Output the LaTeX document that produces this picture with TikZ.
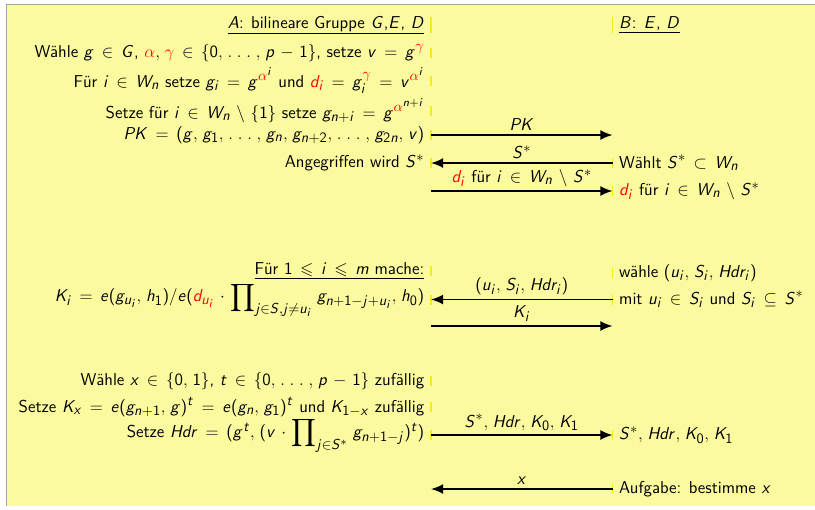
\documentclass[tikz,border=0pt]{standalone}
\usepackage{amssymb}
\usetikzlibrary{positioning, arrows.meta}
\definecolor{slideYellow}{HTML}{FCFA9E}
\definecolor{tickYellow}{HTML}{F2EC1A}
\definecolor{frameGray}{HTML}{A3A3A3}
% Mathe in serifenloser Schrift (wie bei beamer)
\SetSymbolFont{operators}{normal}{OT1}{cmss}{m}{n}
\DeclareSymbolFont{sfletters}{OT1}{cmss}{m}{sl}
\makeatletter
\count@=`A
\loop\mathcode\count@=\numexpr"7000+"100*\symsfletters+\count@\relax
  \ifnum\count@<`Z\advance\count@ 1 \repeat
\count@=`a
\loop\mathcode\count@=\numexpr"7000+"100*\symsfletters+\count@\relax
  \ifnum\count@<`z\advance\count@ 1 \repeat
\makeatother
\DeclareMathSizes{12}{12}{10}{8}
\thinmuskip=5mu\relax
\medmuskip=6mu plus 2mu minus 4mu\relax
\thickmuskip=8mu plus 5mu\relax
\newcommand\grossprod{\mathop{\vcenter{\hbox{\fontsize{13.5}{16}\selectfont$\displaystyle\prod$}}}\nolimits}

\begin{document}
\begin{tikzpicture}[
    x=0.2454mm, y=-0.2454mm,
    font=\fontsize{12}{14.4}\selectfont\sffamily,
    lrow/.style={anchor=east, inner xsep=4.5pt, inner ysep=2pt},
    lbase/.style={anchor=base east, inner xsep=4.5pt, inner ysep=2pt},
    rrow/.style={anchor=west, inner xsep=4.5pt, inner ysep=2pt},
    rbase/.style={anchor=base west, inner xsep=4.5pt, inner ysep=2pt},
    msg/.style={line width=1.2pt, -{Latex[length=8.5pt, width=7pt]}},
    lbl/.style={above, inner sep=2.5pt},
    tick/.style={tickYellow, line width=1.2pt},
]
\useasboundingbox (0,0) rectangle (815,509);
\fill[slideYellow] (7,5) rectangle (815,506);
\draw[frameGray, line width=1pt] (6.3,506) -- (6.3,4.3) -- (815,4.3);

% Spalte A
\node[lbase] (aHead)   at (431,28)  {\underline{$A$: bilineare Gruppe $G$,$E$, $D$}};
\node[lbase] (aChoose) at (431,57)  {Wähle $g \in G$, $\textcolor{red}{\alpha}, \textcolor{red}{\gamma} \in \{0, \ldots, p-1\}$, setze $v = g^{\textcolor{red}{\gamma}}$};
\node[lbase] (aSet)    at (431,87)  {Für $i \in W_n$ setze $g_i = g^{\textcolor{red}{\alpha}^i}$ und $\textcolor{red}{d_i} = g_i^{\textcolor{red}{\gamma}} = v^{\textcolor{red}{\alpha}^i}$};
\node[lbase] (aExt)    at (431,118) {Setze für $i \in W_n \setminus \{1\}$ setze $g_{n+i} = g^{\textcolor{red}{\alpha}^{n+i}}$};
\node[lrow]  (pk)      at (431,135) {$PK = (g, g_1, \ldots, g_n, g_{n+2}, \ldots, g_{2n}, v)$};
\node[lrow]  (angriff) at (431,163) {Angegriffen wird $S^*$};
\node[lbase] (fuerHead) at (431,274) {\underline{Für $1 \leqslant i \leqslant m$ mache:}};
\node[lrow]  (kform)   at (431,299.5) {$K_i = e(g_{u_i}, h_1) / e(\textcolor{red}{d_{u_i}} \cdot \grossprod_{j \in S, j \neq u_i} g_{n+1-j+u_i}, h_0)$};
\node[lbase] (xChoose) at (431,385) {Wähle $x \in \{0, 1\}$, $t \in \{0, \ldots, p-1\}$ zufällig};
\node[lbase] (kxSet)   at (431,412) {Setze $K_x = e(g_{n+1}, g)^t = e(g_n, g_1)^t$ und $K_{1-x}$ zufällig};
\node[lrow]  (hdrSet)  at (431,435) {Setze $Hdr = (g^t, (v \cdot \grossprod_{j \in S^*} g_{n+1-j})^t)$};

% Spalte B
\node[rbase] (bHead)   at (612.5,28)  {\underline{$B$: $E$, $D$}};
\node[rrow]  (waehlt)  at (612.5,163) {Wählt $S^* \subset W_n$};
\node[rrow]  (diGet)   at (612.5,191) {$\textcolor{red}{d_i}$ für $i \in W_n \setminus S^*$};
\node[rbase] (uChoose) at (612.5,277) {wähle $(u_i, S_i, Hdr_i)$};
\node[rrow]  (uCond)   at (612.5,299.5) {mit $u_i \in S_i$ und $S_i \subseteq S^*$};
\node[rrow]  (chall)   at (612.5,435) {$S^*, Hdr, K_0, K_1$};
\node[rrow]  (task)    at (612.5,489) {Aufgabe: bestimme $x$};

\coordinate (pkEnd)   at (612.5,135);
\coordinate (diStart) at (431,191);
\coordinate (kiStart) at (431,326);
\coordinate (kiEnd)   at (612.5,326);
\coordinate (xEnd)    at (431,489);

\foreach \n/\h in {aHead/16, aChoose/10, aSet/10, aExt/10, pk/10, angriff/10, fuerHead/10, kform/10, xChoose/10, kxSet/10, hdrSet/10}
    \draw[tick] (\n.east) ++(0,-\h/2) -- ++(0,\h);
\foreach \n/\h in {bHead/16, waehlt/10, diGet/10, uChoose/10, uCond/10, chall/10, task/10}
    \draw[tick] (\n.west) ++(0,-\h/2) -- ++(0,\h);

\draw[msg] (pk.east) -- node[lbl] {$PK$} (pkEnd);
\draw[msg] (waehlt.west) -- node[lbl] {$S^*$} (angriff.east);
\draw[msg] (diStart) -- node[lbl] {$\textcolor{red}{d_i}$ für $i \in W_n \setminus S^*$} (diGet.west);
\draw[msg] (uCond.west) -- node[lbl] {$(u_i, S_i, Hdr_i)$} (kform.east);
\draw[msg] (kiStart) -- node[lbl] {$K_i$} (kiEnd);
\draw[msg] (hdrSet.east) -- node[lbl] {$S^*, Hdr, K_0, K_1$} (chall.west);
\draw[msg] (task.west) -- node[lbl] {$x$} (xEnd);
\end{tikzpicture}
\end{document}
